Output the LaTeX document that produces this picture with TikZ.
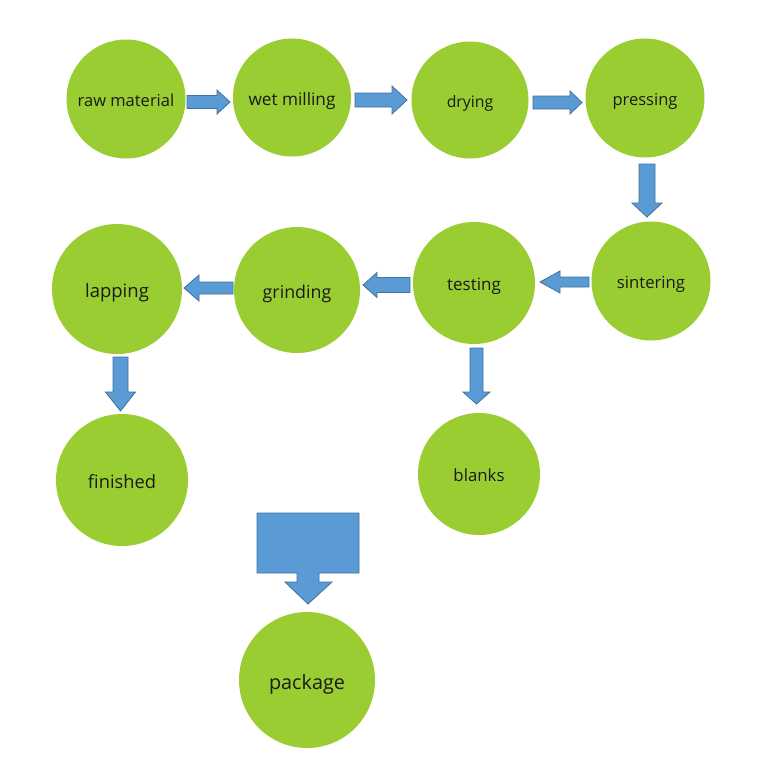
\documentclass[tikz,border=0pt]{standalone}
\usepackage{fontspec}
\setmainfont{Open Sans}
\definecolor{leaf}{HTML}{9ACD32}
\definecolor{arrowfill}{HTML}{5B9BD5}
\definecolor{arrowline}{HTML}{41719C}
\definecolor{txt}{HTML}{1A1A1A}
\newcommand\lbl[1]{\raisebox{0pt}[0.92em][0pt]{#1}}
\newcommand\harrow[6]{%
  \draw[barrow] (#1,#4-#5) -- (#2,#4-#5) -- (#2,#4-#6) -- (#3,#4) -- (#2,#4+#6) -- (#2,#4+#5) -- (#1,#4+#5) -- cycle;}
\newcommand\varrow[6]{%
  \draw[barrow] (#1-#5,#2) -- (#1-#5,#3) -- (#1-#6,#3) -- (#1,#4) -- (#1+#6,#3) -- (#1+#5,#3) -- (#1+#5,#2) -- cycle;}
\begin{document}
\begin{tikzpicture}[x=1pt,y=-1pt,
  stage/.style={circle, fill=leaf, inner sep=0pt, text=txt, font=\fontsize{#1}{#1}\selectfont},
  barrow/.style={fill=arrowfill, draw=arrowline, line width=0.8pt, line join=miter}]
\useasboundingbox[fill=white] (0,0) rectangle (775,780);
\node[stage=16.5, minimum size=119pt] (raw) at (126,99) {\lbl{raw material}};
\node[stage=17.2, minimum size=118pt] (wet) at (292,97.5) {\lbl{wet milling}};
\node[stage=15.8, minimum size=117pt] (dry) at (470,100) {\lbl{drying}};
\node[stage=16.5, minimum size=119pt] (press) at (645,98) {\lbl{pressing}};
\node[stage=16.7, minimum size=119pt] (sinter) at (651,281) {\lbl{sintering}};
\node[stage=17, minimum size=122pt] (test) at (474,283) {\lbl{testing}};
\node[stage=17.8, minimum size=126pt] (grind) at (297,290) {\lbl{grinding}};
\node[stage=18.5, minimum size=130pt] (lap) at (117,289) {\lbl{lapping}};
\node[stage=18.3, minimum size=132pt] (fin) at (122,480) {\lbl{finished}};
\node[stage=16.8, minimum size=122pt] (blank) at (479,474) {\lbl{blanks}};
\node[stage=19.8, minimum size=136pt] (pack) at (307,680) {\lbl{package}};
% block arrows
\harrow{187}{217}{230}{102}{6.5}{12}
\harrow{355}{392}{407}{100}{7}{14}
\harrow{533}{570}{582}{102.5}{6.5}{11.5}
\varrow{647}{164}{203}{217}{8}{15}
\harrow{589}{560}{540}{282}{5}{11}
\harrow{410}{377}{363}{285}{7.5}{12.5}
\harrow{233}{199}{184}{288}{6}{13}
\varrow{120.5}{357}{392}{411}{7.5}{15}
\varrow{476.5}{348}{392}{404}{6.5}{13.5}
\draw[barrow] (257,513) -- (359,513) -- (359,573) -- (319,573) -- (319,582) -- (332,582) -- (308,604) -- (285,582) -- (297,582) -- (297,573) -- (257,573) -- cycle;
\end{tikzpicture}
\end{document}
